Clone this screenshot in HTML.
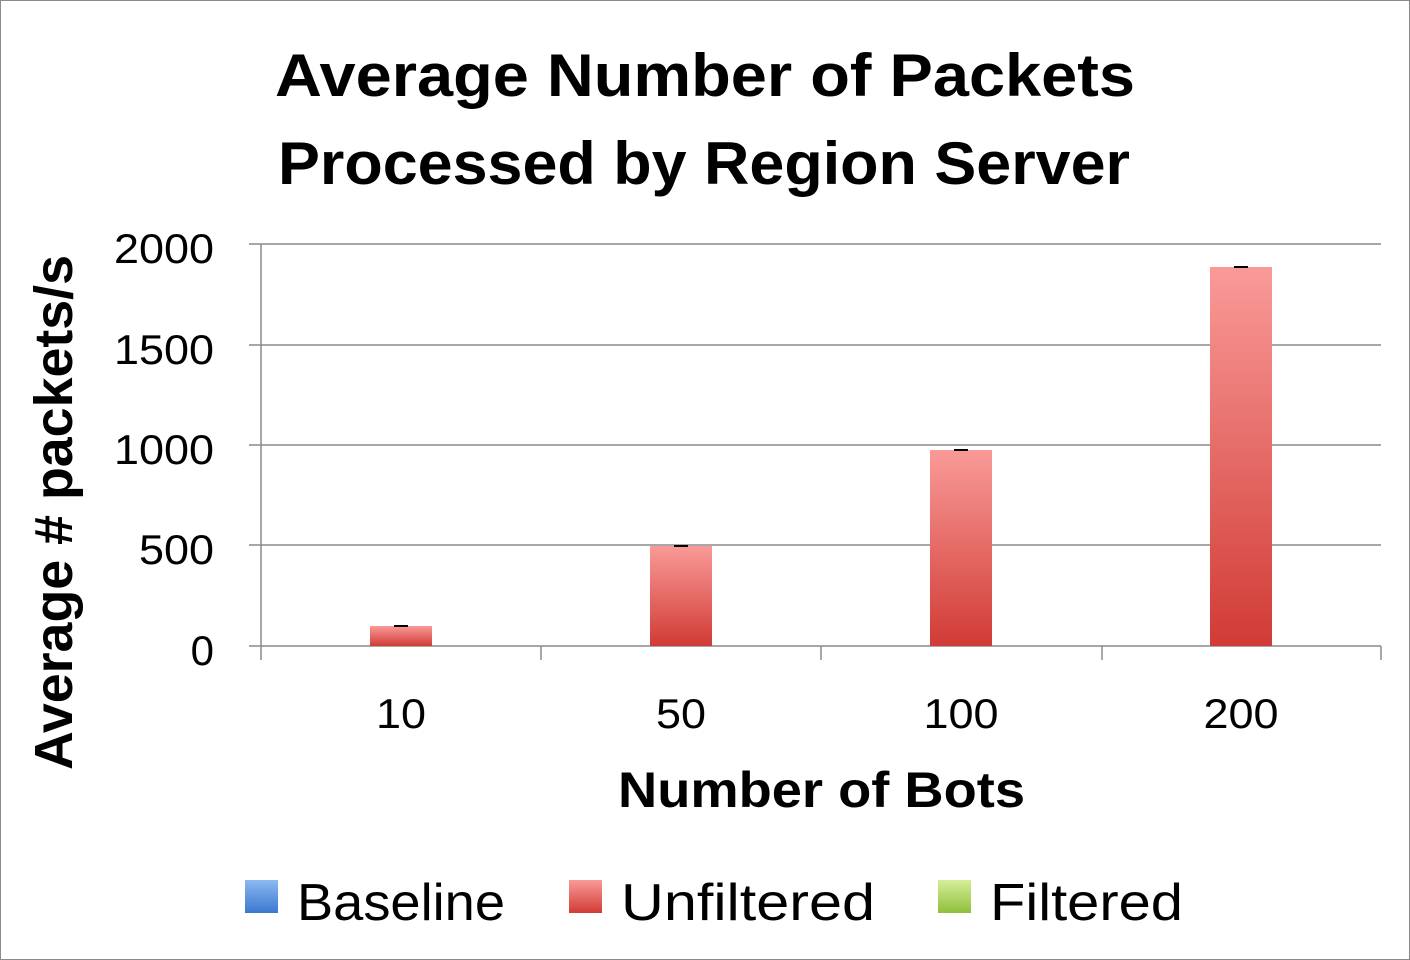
<!DOCTYPE html>
<html><head><meta charset="utf-8"><style>
html,body{margin:0;padding:0;background:#fff;}
svg{display:block;}
text{font-family:"Liberation Sans",sans-serif;fill:#000;}
</style></head><body>
<svg width="1410" height="960" viewBox="0 0 1410 960" xmlns="http://www.w3.org/2000/svg">
<defs>
<linearGradient id="r" x1="0" y1="0" x2="0" y2="1">
<stop offset="0" stop-color="#f99a98"/><stop offset="1" stop-color="#d13b35"/></linearGradient>
<linearGradient id="b" x1="0" y1="0" x2="0" y2="1">
<stop offset="0" stop-color="#8cb9f0"/><stop offset="1" stop-color="#3a78cf"/></linearGradient>
<linearGradient id="g" x1="0" y1="0" x2="0" y2="1">
<stop offset="0" stop-color="#d5ee9a"/><stop offset="1" stop-color="#8fc03a"/></linearGradient>
</defs>
<rect x="0.5" y="0.5" width="1409" height="959" fill="#fff" stroke="#8a8a8a"/>
<text x="275" y="96" font-size="60" font-weight="bold" textLength="860" lengthAdjust="spacingAndGlyphs">Average Number of Packets</text>
<text x="278" y="184" font-size="60" font-weight="bold" textLength="852" lengthAdjust="spacingAndGlyphs">Processed by Region Server</text>
<g stroke="#8a8a8a" stroke-width="1.5">
<line x1="249" y1="244" x2="1381" y2="244"/>
<line x1="249" y1="345" x2="1381" y2="345"/>
<line x1="249" y1="445" x2="1381" y2="445"/>
<line x1="249" y1="545" x2="1381" y2="545"/>
<line x1="249" y1="646" x2="1381" y2="646"/>
<line x1="261" y1="244" x2="261" y2="660"/>
<line x1="541" y1="646" x2="541" y2="660"/>
<line x1="821" y1="646" x2="821" y2="660"/>
<line x1="1102" y1="646" x2="1102" y2="660"/>
<line x1="1381" y1="646" x2="1381" y2="660"/>
</g>
<rect x="370" y="626" width="62" height="20" fill="url(#r)"/>
<rect x="650" y="546" width="62" height="100" fill="url(#r)"/>
<rect x="930" y="450" width="62" height="196" fill="url(#r)"/>
<rect x="1210" y="267" width="62" height="379" fill="url(#r)"/>
<g stroke="#000" stroke-width="2">
<line x1="394" y1="626" x2="408" y2="626"/>
<line x1="674" y1="546" x2="688" y2="546"/>
<line x1="954" y1="450" x2="968" y2="450"/>
<line x1="1234" y1="267" x2="1248" y2="267"/>
</g>
<g font-size="42" text-anchor="end" lengthAdjust="spacingAndGlyphs">
<text x="214" y="263" textLength="100" lengthAdjust="spacingAndGlyphs">2000</text>
<text x="214" y="364" textLength="100" lengthAdjust="spacingAndGlyphs">1500</text>
<text x="214" y="464" textLength="100" lengthAdjust="spacingAndGlyphs">1000</text>
<text x="214" y="564" textLength="75" lengthAdjust="spacingAndGlyphs">500</text>
<text x="214" y="665">0</text>
</g>
<g font-size="42" text-anchor="middle">
<text x="401" y="728" textLength="50" lengthAdjust="spacingAndGlyphs">10</text>
<text x="681" y="728" textLength="50" lengthAdjust="spacingAndGlyphs">50</text>
<text x="961" y="728" textLength="75" lengthAdjust="spacingAndGlyphs">100</text>
<text x="1241" y="728" textLength="75" lengthAdjust="spacingAndGlyphs">200</text>
</g>
<text x="618" y="807" font-size="50" font-weight="bold" textLength="407" lengthAdjust="spacingAndGlyphs">Number of Bots</text>
<text transform="translate(72,770) rotate(-90)" font-size="54" font-weight="bold" textLength="515" lengthAdjust="spacingAndGlyphs">Average # packets/s</text>
<rect x="245" y="880" width="33" height="33" fill="url(#b)"/>
<text x="297" y="920" font-size="52" textLength="208" lengthAdjust="spacingAndGlyphs">Baseline</text>
<rect x="569" y="880" width="33" height="33" fill="url(#r)"/>
<text x="621" y="920" font-size="52" textLength="254" lengthAdjust="spacingAndGlyphs">Unfiltered</text>
<rect x="938" y="880" width="33" height="33" fill="url(#g)"/>
<text x="990" y="920" font-size="52" textLength="193" lengthAdjust="spacingAndGlyphs">Filtered</text>
</svg>
</body></html>
